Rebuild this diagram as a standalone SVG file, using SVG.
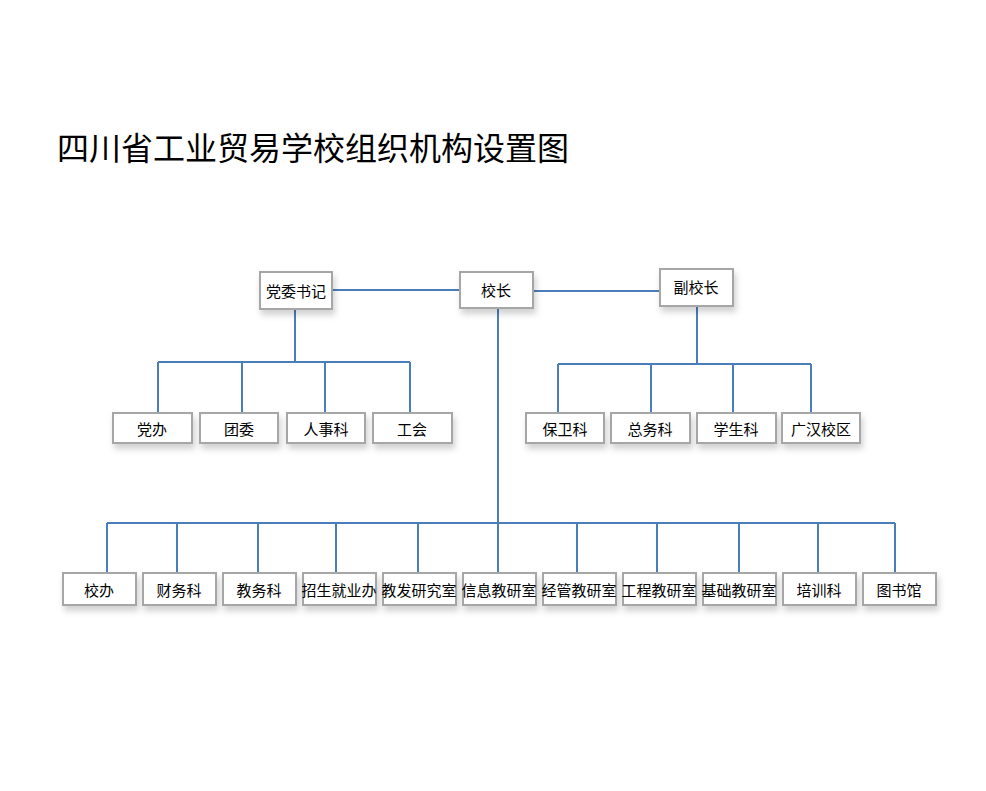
<svg xmlns="http://www.w3.org/2000/svg" width="986" height="791" viewBox="0 0 986 791">
<defs>
<filter id="sh" x="-20%" y="-20%" width="150%" height="180%"><feDropShadow dx="2" dy="5" stdDeviation="3" flood-color="#000" flood-opacity="0.18"/></filter>
<style>
.b{fill:#fff;stroke:#a6a6a6;stroke-width:2;filter:url(#sh)}
.t{font-family:"Liberation Sans","Noto Sans CJK SC",sans-serif;font-size:15px;text-anchor:middle;fill:#000}
.c{stroke:#4a7ebb;stroke-width:2;fill:none}
</style>
</defs>
<rect width="986" height="791" fill="#fff"/>
<text x="57" y="160" font-family="Liberation Sans,'Noto Sans CJK SC',sans-serif" font-size="32" fill="#000">四川省工业贸易学校组织机构设置图</text>
<g id="connectors">
<path class="c" d="M332 290H460M533 291H660M295 309V362M158 362H410M158 362V413M242 362V413M325 362V413M410 362V413M697 306V364M558 364H811M558 364V413M651 364V413M733 364V413M811 364V413M498 308V523M107 523H895M107 523V573M177 523V573M258 523V573M336 523V573M418 523V573M498 523V573M577 523V573M657 523V573M739 523V573M818 523V573M895 523V573"/>
</g>
<g id="n1"><rect class="b" x="260" y="272" width="72" height="37"/><text class="t" x="296" y="297">党委书记</text></g>
<g id="n2"><rect class="b" x="460" y="272" width="73" height="36"/><text class="t" x="496" y="296">校长</text></g>
<g id="n3"><rect class="b" x="660" y="269" width="73" height="37"/><text class="t" x="696" y="293">副校长</text></g>
<g id="n4"><rect class="b" x="113" y="413" width="79" height="30"/><text class="t" x="152" y="435">党办</text></g>
<g id="n5"><rect class="b" x="200" y="413" width="78" height="30"/><text class="t" x="239" y="435">团委</text></g>
<g id="n6"><rect class="b" x="287" y="413" width="78" height="30"/><text class="t" x="326" y="435">人事科</text></g>
<g id="n7"><rect class="b" x="373" y="413" width="79" height="30"/><text class="t" x="412" y="435">工会</text></g>
<g id="n8"><rect class="b" x="526" y="413" width="78" height="30"/><text class="t" x="565" y="435">保卫科</text></g>
<g id="n9"><rect class="b" x="611" y="413" width="79" height="30"/><text class="t" x="650" y="435">总务科</text></g>
<g id="n10"><rect class="b" x="697" y="413" width="79" height="30"/><text class="t" x="736" y="435">学生科</text></g>
<g id="n11"><rect class="b" x="782" y="413" width="78" height="30"/><text class="t" x="821" y="435">广汉校区</text></g>
<g id="n12"><rect class="b" x="63" y="573" width="73" height="32"/><text class="t" x="99" y="596">校办</text></g>
<g id="n13"><rect class="b" x="143" y="573" width="73" height="32"/><text class="t" x="179" y="596">财务科</text></g>
<g id="n14"><rect class="b" x="223" y="573" width="73" height="32"/><text class="t" x="259" y="596">教务科</text></g>
<g id="n15"><rect class="b" x="303" y="573" width="73" height="32"/><text class="t" x="339" y="596">招生就业办</text></g>
<g id="n16"><rect class="b" x="383" y="573" width="73" height="32"/><text class="t" x="419" y="596">教发研究室</text></g>
<g id="n17"><rect class="b" x="463" y="573" width="73" height="32"/><text class="t" x="499" y="596">信息教研室</text></g>
<g id="n18"><rect class="b" x="543" y="573" width="73" height="32"/><text class="t" x="579" y="596">经管教研室</text></g>
<g id="n19"><rect class="b" x="623" y="573" width="73" height="32"/><text class="t" x="659" y="596">工程教研室</text></g>
<g id="n20"><rect class="b" x="703" y="573" width="73" height="32"/><text class="t" x="739" y="596">基础教研室</text></g>
<g id="n21"><rect class="b" x="783" y="573" width="73" height="32"/><text class="t" x="819" y="596">培训科</text></g>
<g id="n22"><rect class="b" x="863" y="573" width="73" height="32"/><text class="t" x="899" y="596">图书馆</text></g>
</svg>
